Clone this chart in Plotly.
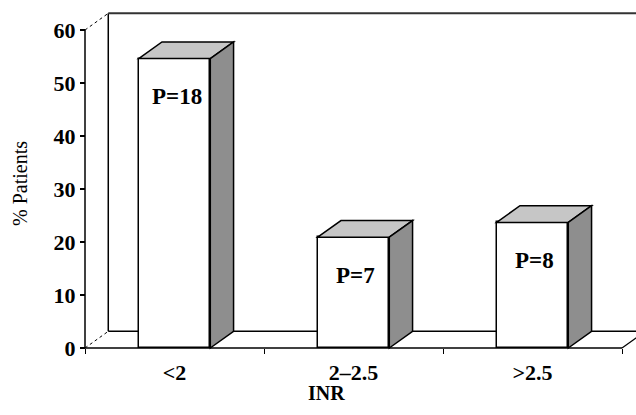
import plotly.graph_objects as go

# ---- data ----
categories = ["<2", "2–2.5", ">2.5"]
pct_patients = [54.6, 20.9, 23.7]
bar_labels = ["P=18", "P=7", "P=8"]
y_ticks = [0, 10, 20, 30, 40, 50, 60]

# ---- style / geometry ----
FONT = "Liberation Serif, Times New Roman, Times, serif"
DX, DY = 0.13, 3.15          # 3D depth offset (data units)
BAR_W = 0.4
TOP_C, SIDE_C = "#c6c6c6", "#8e8e8e"
LW = 1.5
Y_MAX = y_ticks[-1]

W, H = 636, 415
ML, MR, MT, MB = 75, 0, 12, 62
PX_X, PX_Y = 179.0, 5.3
x_lo = -0.5 - 10 / PX_X
x_hi = x_lo + (W - ML - MR) / PX_X
y_lo = -5 / PX_Y
y_hi = y_lo + (H - MT - MB) / PX_Y

idx = list(range(len(categories)))
x_left, x_right = -0.5, len(categories) - 0.5

fig = go.Figure()
fig.add_trace(go.Bar(
    x=idx, y=pct_patients, width=BAR_W,
    marker=dict(color="white", line=dict(color="black", width=LW)),
    hoverinfo="skip", showlegend=False,
))

shapes = []
def line(x0, y0, x1, y1, layer="below", width=LW, color="black", dash="solid"):
    shapes.append(dict(type="line", xref="x", yref="y", x0=x0, y0=y0, x1=x1, y1=y1,
                       layer=layer, line=dict(color=color, width=width, dash=dash)))

# back wall and floor
line(x_left + DX, DY, x_right + DX, DY)
line(x_left + DX, DY, x_left + DX, Y_MAX + DY)
line(x_left + DX, Y_MAX + DY, x_right + DX, Y_MAX + DY, width=2, color="#333")
line(x_left, 0, x_left + DX, DY, width=1, dash="dot")
line(x_left, Y_MAX, x_left + DX, Y_MAX + DY, width=1, dash="dot")
line(x_right, 0, x_right + DX, DY, width=1.2)
# front edges
line(x_left, 0, x_right, 0, layer="above")
line(x_left, 0, x_left, Y_MAX, layer="above")

# bar tops and sides
for i, v in zip(idx, pct_patients):
    x0, x1 = i - BAR_W / 2, i + BAR_W / 2
    top = f"M{x0},{v} L{x0+DX},{v+DY} L{x1+DX},{v+DY} L{x1},{v} Z"
    side = f"M{x1},0 L{x1+DX},{DY} L{x1+DX},{v+DY} L{x1},{v} Z"
    shapes.append(dict(type="path", xref="x", yref="y", path=top, fillcolor=TOP_C,
                       line=dict(color="black", width=LW), layer="above"))
    shapes.append(dict(type="path", xref="x", yref="y", path=side, fillcolor=SIDE_C,
                       line=dict(color="black", width=LW), layer="above"))

annotations = []
for i, v, t in zip(idx, pct_patients, bar_labels):
    annotations.append(dict(x=i, y=v, xref="x", yref="y", yshift=-38, xshift=2, text=t,
                            showarrow=False, xanchor="center", yanchor="middle",
                            font=dict(family=FONT, size=23, color="black", weight="bold")))

annotations.append(dict(x=(326 - ML) / (W - ML - MR), y=(H - MB - 393) / (H - MT - MB),
                        xref="paper", yref="paper", text="INR", showarrow=False,
                        xanchor="center", yanchor="middle",
                        font=dict(family=FONT, size=20, color="black", weight="bold")))
annotations.append(dict(x=(20 - ML) / (W - ML - MR), y=(H - MB - 184) / (H - MT - MB),
                        xref="paper", yref="paper", text="% Patients", textangle=-90,
                        xanchor="center", yanchor="middle",
                        showarrow=False, font=dict(family=FONT, size=20, color="black")))

fig.update_layout(
    width=W, height=H,
    margin=dict(l=ML, r=MR, t=MT, b=MB, autoexpand=False),
    paper_bgcolor="white", plot_bgcolor="white",
    shapes=shapes, annotations=annotations,
    bargap=0,
    font=dict(family=FONT),
    xaxis=dict(
        range=[x_lo, x_hi], tickvals=idx, ticktext=categories,
        showgrid=False, zeroline=False, showline=False, ticks="",
        automargin=False,
        anchor="free", position=(0 - y_lo) / (y_hi - y_lo),
        ticklabelstandoff=9,
        tickfont=dict(family=FONT, size=22, color="black", weight="bold"),
        minor=dict(tickmode="linear", tick0=-0.5, dtick=1, ticks="outside",
                   ticklen=5, tickwidth=1.2, tickcolor="black", showgrid=False),
    ),
    yaxis=dict(
        range=[y_lo, y_hi], tickvals=y_ticks,
        showgrid=False, zeroline=False, showline=False,
        automargin=False,
        ticks="outside", ticklen=5, tickwidth=1.5, tickcolor="black",
        anchor="free", position=(x_left - x_lo) / (x_hi - x_lo),
        tickfont=dict(family=FONT, size=22, color="black", weight="bold"),
    ),
)

fig.write_html("out.html", config={"displayModeBar": False},
               post_script="document.body.style.margin='0';document.body.style.padding='0';")
